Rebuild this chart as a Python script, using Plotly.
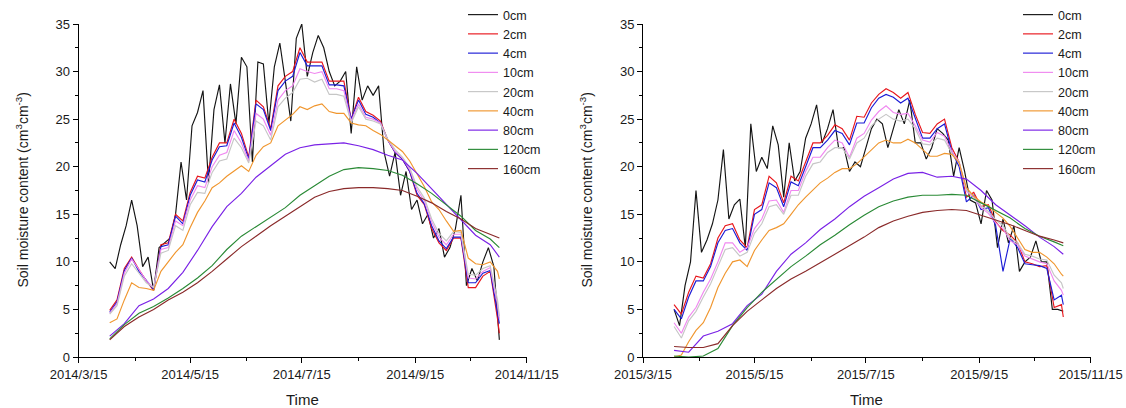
import pandas as pd
import plotly.graph_objects as go

depths = ["0cm", "2cm", "4cm", "10cm", "20cm", "40cm", "80cm", "120cm", "160cm"]
colors = ["#141414", "#E8161C", "#1C1CD6", "#F088F0", "#C6C6C6",
          "#F0962E", "#7A22E6", "#2A8A36", "#8A2A2A"]

# ---------------- 2014 panel ----------------
d0_2014 = [10.0, 9.3, 11.8, 13.8, 16.5, 13.8, 9.5, 10.5, 7.0, 11.5,
           12.0, 12.5, 15.0, 20.5, 16.5, 24.3, 25.7, 28.0, 18.3, 26.0,
           28.6, 22.5, 28.7, 24.5, 31.5, 30.5, 20.5, 31.0, 30.8, 24.5,
           30.5, 33.0, 29.0, 24.8, 33.5, 35.0, 29.5, 32.0, 33.8, 32.5,
           30.0, 28.5, 29.0, 30.0, 23.5, 30.5, 27.0, 28.5, 27.5, 28.5,
           21.5, 19.0, 21.5, 17.0, 19.5, 15.5, 16.5, 14.0, 15.0, 12.5,
           13.5, 10.5, 11.5, 13.5, 17.0, 7.5, 9.3, 8.0, 10.0, 11.5,
           9.5, 1.8]
d2_2014 = [4.9, 6.0, 9.3, 10.5, 9.2, 8.0, 7.0, 11.8, 12.0, 15.0,
           14.3, 17.3, 19.0, 18.8, 21.0, 22.5, 22.5, 25.0, 23.5, 21.0,
           27.0, 26.3, 24.0, 28.5, 29.5, 30.0, 32.5, 31.0, 31.0, 31.0,
           29.0, 29.0, 29.0, 25.0, 27.3, 25.8, 25.4, 24.8, 22.8, 21.5,
           20.8, 19.5, 17.0, 16.0, 13.5, 12.0, 11.2, 12.5, 12.5, 7.3,
           7.3, 8.5, 9.0, 4.0, 2.5]
d4_2014 = [4.7, 5.8, 9.1, 10.4, 9.0, 8.0, 7.1, 11.6, 11.8, 14.8,
           14.0, 17.0, 18.6, 18.4, 20.7, 22.1, 22.2, 24.6, 23.1, 20.8,
           26.6, 26.0, 23.8, 28.0, 29.0, 29.5, 32.0, 30.6, 30.6, 30.6,
           28.6, 28.6, 28.5, 25.0, 27.0, 25.5, 25.2, 24.6, 22.8, 21.5,
           20.8, 19.5, 17.2, 16.1, 13.8, 12.2, 11.4, 12.6, 12.6, 7.8,
           7.8, 8.8, 9.1, 4.8, 3.5]
d10_2014 = [4.6, 5.6, 8.8, 10.3, 9.2, 8.0, 7.3, 11.3, 11.5, 14.3,
            13.8, 16.5, 18.0, 17.8, 20.0, 21.2, 21.5, 23.8, 22.5, 20.6,
            25.6, 25.0, 23.3, 27.0, 28.0, 28.5, 30.3, 30.0, 29.8, 30.0,
            28.2, 28.2, 28.0, 24.8, 26.6, 25.2, 25.0, 24.6, 22.8, 21.6,
            20.9, 19.7, 17.6, 16.4, 14.2, 12.6, 11.8, 12.9, 12.9, 8.3,
            8.2, 9.0, 9.4, 5.5, 4.0]
d20_2014 = [4.5, 5.4, 8.5, 9.8, 8.8, 7.8, 7.3, 10.9, 11.2, 13.8,
            13.3, 16.0, 17.3, 17.2, 19.4, 20.6, 20.8, 23.0, 22.0, 20.4,
            24.8, 24.3, 22.8, 26.3, 27.2, 27.8, 29.2, 29.3, 28.9, 29.2,
            27.6, 27.6, 27.4, 24.6, 26.3, 25.0, 24.8, 24.5, 22.9, 21.8,
            21.0, 19.9, 17.9, 16.7, 14.5, 13.0, 12.2, 13.2, 13.1, 8.7,
            8.6, 9.3, 9.6, 6.0, 4.3]
d40_2014 = [3.6, 4.0, 6.0, 7.8, 7.3, 7.2, 7.0, 9.0, 10.0, 11.0,
            11.8, 13.6, 15.2, 16.4, 17.8, 18.3, 19.0, 19.6, 20.1, 19.5,
            21.2, 22.1, 22.5, 24.3, 24.9, 25.5, 26.3, 26.0, 26.4, 26.6,
            25.8, 25.6, 25.6, 24.6, 24.4, 24.3, 23.8, 23.4, 22.8, 22.2,
            21.6, 20.6, 19.2, 17.9, 16.3, 15.5, 14.3, 13.2, 13.3, 10.4,
            9.8, 9.7, 10.0, 9.0, 8.2]
d80_2014 = [2.2, 3.5, 5.4, 6.1, 7.2, 8.9, 11.2, 13.7, 15.8, 17.2,
            18.9, 20.1, 21.3, 22.0, 22.3, 22.4, 22.5, 22.2, 21.8, 21.2,
            20.7, 19.3, 17.7, 16.0, 14.5, 12.8, 11.8, 10.5]
d120_2014 = [1.9, 3.4, 4.6, 5.3, 6.2, 7.2, 8.3, 9.6, 11.3, 12.7,
             13.7, 14.7, 15.7, 17.0, 18.0, 19.0, 19.7, 19.9, 19.8, 19.6,
             19.1, 18.2, 17.2, 16.0, 14.8, 13.3, 12.4, 11.5]
d160_2014 = [1.8, 3.2, 4.2, 5.0, 6.0, 6.8, 7.8, 9.0, 10.3, 11.6,
             12.7, 13.8, 14.8, 15.8, 16.8, 17.4, 17.7, 17.8, 17.8, 17.7,
             17.5, 16.9, 16.2, 15.3, 14.5, 13.5, 12.9, 12.5]

# ---------------- 2015 panel ----------------
d0_2015 = [5.0, 3.3, 7.5, 10.0, 17.5, 11.0, 12.3, 14.0, 16.5, 21.8,
           14.5, 16.0, 16.6, 11.5, 24.5, 19.5, 21.0, 19.8, 24.3, 22.3,
           16.8, 22.5, 18.5, 19.5, 23.0, 24.5, 26.5, 22.5, 24.0, 26.0,
           22.0, 22.0, 19.5, 20.5, 20.0, 22.0, 24.0, 25.0, 24.5, 22.0,
           24.0, 26.0, 24.5, 27.0, 22.5, 22.5, 20.8, 22.0, 24.0, 23.5,
           22.8, 19.0, 22.0, 19.5, 16.5, 16.2, 14.0, 17.5, 16.5, 11.5,
           14.5, 12.0, 13.8, 9.0, 10.0, 10.5, 12.2, 10.0, 10.0, 5.0,
           5.0, 4.8]
d2_2015 = [5.5, 4.5, 6.8, 8.5, 8.3, 9.8, 12.5, 13.8, 14.0, 12.3,
           11.5, 15.5, 16.0, 19.0, 18.3, 16.2, 19.0, 18.5, 20.5, 22.5,
           22.5, 23.3, 24.4, 24.0, 22.8, 25.3, 25.2, 26.7, 27.6, 28.2,
           27.8, 27.2, 27.8, 25.5, 23.6, 23.5, 24.5, 25.0, 22.0, 20.5,
           16.8, 17.3, 15.8, 16.0, 14.2, 13.3, 12.8, 12.0, 10.0, 9.8,
           9.5, 9.6, 5.2, 5.5, 4.2]
d4_2015 = [5.0, 4.0, 6.3, 8.0, 8.0, 9.5, 12.0, 13.3, 13.5, 12.0,
           11.2, 15.0, 15.5, 18.3, 17.8, 15.8, 18.4, 18.0, 20.0, 22.0,
           22.0, 22.8, 23.8, 23.5, 22.3, 24.6, 24.6, 26.2, 27.2, 27.6,
           27.3, 26.7, 27.2, 25.0, 23.0, 23.0, 24.0, 24.5, 21.6, 20.0,
           16.3, 17.0, 15.5, 15.7, 13.8, 9.0, 12.5, 11.5, 9.8, 9.7,
           9.6, 9.3, 6.0, 6.5, 5.5]
d10_2015 = [3.6, 2.5, 4.2, 5.2, 6.8, 8.2, 10.0, 12.0, 12.0, 11.0,
            11.5, 13.5, 14.5, 16.4, 16.5, 15.2, 17.5, 17.5, 19.5, 21.0,
            21.0, 22.0, 22.8, 22.5, 21.0, 23.0, 23.5, 24.9, 25.8, 26.4,
            25.7, 25.5, 25.6, 24.3, 22.8, 22.6, 23.6, 23.2, 21.6, 20.5,
            17.4, 16.8, 15.7, 15.1, 14.1, 13.5, 12.2, 11.8, 10.6, 10.3,
            10.0, 9.8, 8.0, 7.0, 6.5]
d20_2015 = [3.2, 2.0, 3.8, 4.8, 6.3, 7.7, 9.5, 11.3, 11.5, 10.6,
            11.0, 13.0, 14.0, 15.8, 16.0, 15.0, 17.0, 17.0, 19.0, 20.3,
            20.5, 21.5, 22.0, 22.0, 20.8, 22.5, 23.0, 24.3, 25.0, 25.5,
            25.0, 24.8, 25.0, 24.0, 22.4, 22.3, 23.0, 22.8, 21.4, 20.5,
            17.5, 16.9, 15.9, 15.3, 14.4, 13.8, 12.5, 12.0, 10.8, 10.6,
            10.3, 10.2, 8.6, 7.8, 7.2]
d40_2015 = [0.0, 0.2, 1.6, 2.8, 3.6, 5.2, 7.3, 8.8, 10.0, 10.2,
            9.5, 11.2, 12.3, 13.3, 13.6, 14.0, 15.0, 16.0, 16.8, 17.5,
            18.3, 18.8, 19.4, 19.8, 19.8, 20.3, 21.0, 21.8, 22.5, 22.8,
            22.5, 22.5, 22.9, 22.5, 21.8, 21.1, 21.1, 21.4, 21.3, 20.4,
            17.8, 16.9, 16.3, 15.9, 15.2, 14.6, 13.7, 12.5, 11.3, 11.0,
            11.0, 10.5, 9.8, 8.7, 8.5]
d80_2015 = [0.7, 0.5, 2.2, 2.7, 3.5, 5.4, 6.6, 9.0, 10.8, 12.0,
            13.4, 14.5, 15.8, 16.9, 17.8, 18.7, 19.3, 19.4, 18.9, 19.0,
            18.7, 17.5, 16.0, 14.9, 13.8, 12.6, 11.6, 10.8]
d120_2015 = [0.1, 0.0, 0.1, 0.9, 3.3, 5.2, 6.8, 8.2, 9.5, 10.6,
             11.8, 12.8, 13.9, 14.9, 15.8, 16.4, 16.8, 17.0, 17.0, 17.1,
             17.0, 16.2, 15.4, 14.6, 13.5, 12.7, 12.1, 11.7]
d160_2015 = [1.1, 1.0, 1.0, 1.4, 3.3, 4.8, 6.0, 7.2, 8.2, 9.0,
             9.9, 10.8, 11.7, 12.6, 13.6, 14.3, 14.8, 15.2, 15.4, 15.5,
             15.4, 14.9, 14.4, 13.9, 13.3, 12.7, 12.3, 12.0]

tick_md = ["3-15", "5-15", "7-15", "9-15", "11-15"]
minor_md = ["4-15", "6-15", "8-15", "10-15"]


def grids(year):
    ga = list(pd.date_range(f"{year}-04-01", f"{year}-10-31", freq="3D"))
    gb = list(pd.date_range(f"{year}-04-01", f"{year}-10-30", freq="4D")) + [pd.Timestamp(f"{year}-10-31")]
    gc = list(pd.date_range(f"{year}-04-01", f"{year}-10-26", freq="8D")) + [pd.Timestamp(f"{year}-10-31")]
    return ga, gb, gc


panels = [
    (2014, [d0_2014, d2_2014, d4_2014, d10_2014, d20_2014, d40_2014, d80_2014, d120_2014, d160_2014]),
    (2015, [d0_2015, d2_2015, d4_2015, d10_2015, d20_2015, d40_2015, d80_2015, d120_2015, d160_2015]),
]

FONT = "Liberation Sans, Arial, Helvetica, sans-serif"
fig = go.Figure()

for p, (year, series) in enumerate(panels):
    ga, gb, gc = grids(year)
    xs = [ga, gb, gb, gb, gb, gb, gc, gc, gc]
    suffix = "" if p == 0 else "2"
    for name, col, x, y in zip(depths, colors, xs, series):
        fig.add_trace(go.Scatter(
            x=x, y=y, mode="lines", name=name,
            line=dict(color=col, width=1.15),
            xaxis="x" + suffix, yaxis="y" + suffix,
            legend="legend" + suffix, showlegend=True,
        ))

H, W = 408, 1126
ydom = [1 - 357 / H, 1 - 24 / H]
xdoms = [[78.6 / W, 526.8 / W], [643 / W, 1090.7 / W]]

axis_common = dict(showline=True, linecolor="black", linewidth=1, ticks="outside",
                   ticklen=5, tickwidth=1, tickcolor="black", showgrid=False,
                   zeroline=False, automargin=False,
                   tickfont=dict(family=FONT, size=13, color="#1a1a1a"))

layout = dict(width=W, height=H, margin=dict(l=0, r=0, t=0, b=0, autoexpand=False),
              paper_bgcolor="white", plot_bgcolor="white",
              font=dict(family=FONT, color="#1a1a1a"), annotations=[])

for p, (year, _) in enumerate(panels):
    suffix = "" if p == 0 else "2"
    tv = [f"{year}-{md}" for md in tick_md]
    tt = [f"{year}/{md.replace('-', '/')}" for md in tick_md]
    mv = [f"{year}-{md}" for md in minor_md]
    layout["xaxis" + suffix] = dict(
        axis_common, domain=xdoms[p], range=[tv[0], tv[-1]], type="date",
        tickmode="array", tickvals=tv, ticktext=tt, anchor="y" + suffix,
        minor=dict(tickmode="array", tickvals=mv, ticks="outside", ticklen=3,
                   tickcolor="black", tickwidth=1))
    layout["yaxis" + suffix] = dict(
        axis_common, domain=ydom, range=[0, 35], tickmode="array",
        tickvals=[0, 5, 10, 15, 20, 25, 30, 35], anchor="x" + suffix,
        minor=dict(dtick=2.5, ticks="outside", ticklen=3, tickcolor="black", tickwidth=1))
    lx = (463 if p == 0 else 1018) / W
    layout["legend" + suffix] = dict(
        x=lx, y=1.0, xanchor="left", yanchor="top", bgcolor="rgba(0,0,0,0)",
        font=dict(family=FONT, size=12.5, color="#1a1a1a"), tracegroupgap=0)
    cx = (xdoms[p][0] + xdoms[p][1]) / 2
    layout["annotations"].append(dict(
        text="Time", x=cx, y=1 - 399 / H, xref="paper", yref="paper",
        showarrow=False, xanchor="center", yanchor="middle",
        font=dict(family=FONT, size=15, color="#1a1a1a")))
    layout["annotations"].append(dict(
        text="Soil moisture content (cm<sup>3</sup>cm<sup>-3</sup>)",
        x=(22 if p == 0 else 586) / W, y=(ydom[0] + ydom[1]) / 2,
        xref="paper", yref="paper", showarrow=False, textangle=-90,
        xanchor="center", yanchor="middle",
        font=dict(family=FONT, size=14, color="#1a1a1a")))

fig.update_layout(**layout)
fig.write_html("out.html")
